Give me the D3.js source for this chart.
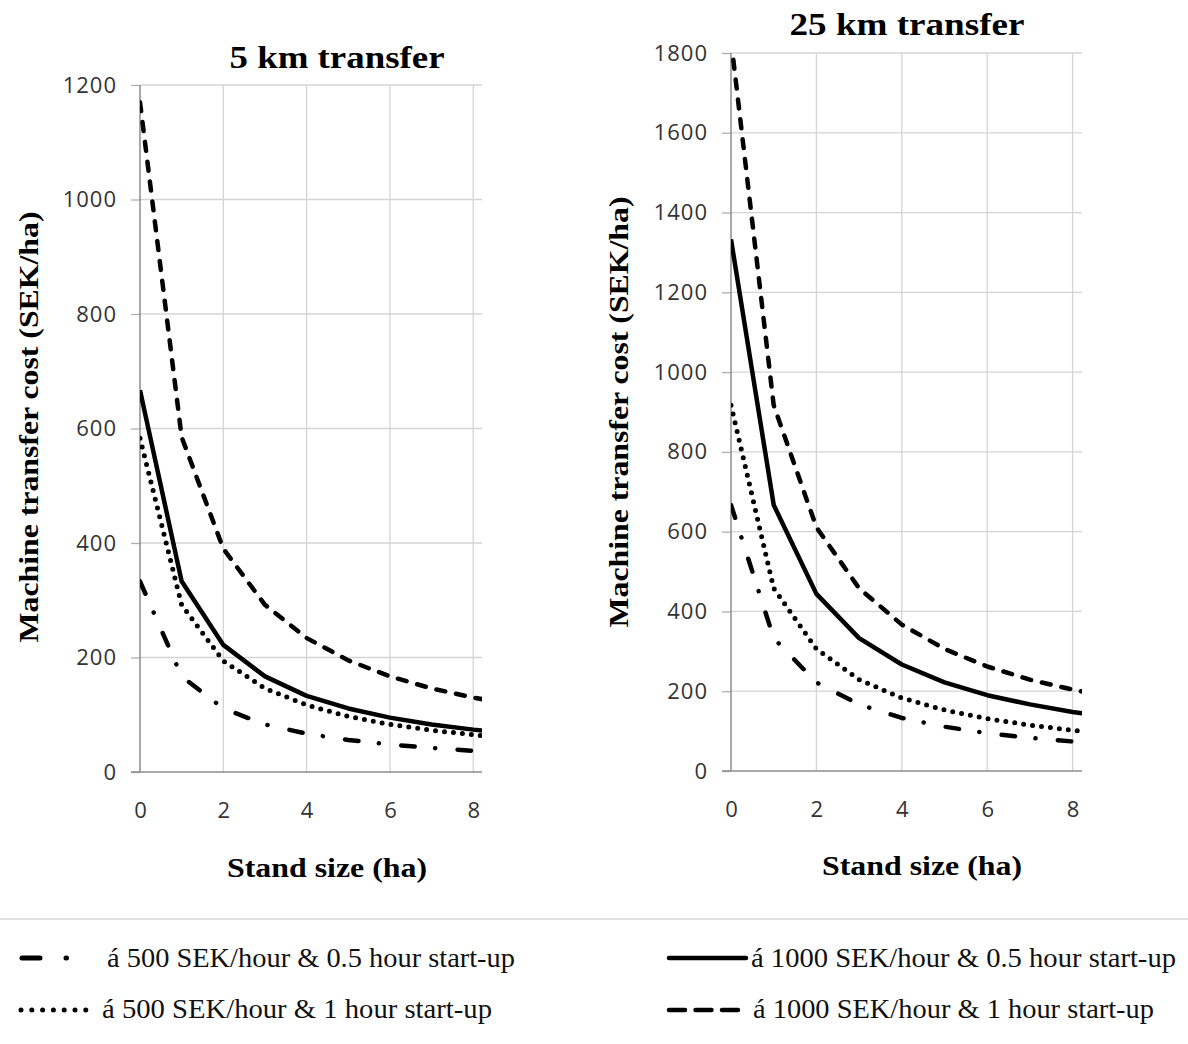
<!DOCTYPE html>
<html>
<head>
<meta charset="utf-8">
<script src="https://cdn.jsdelivr.net/npm/d3@7"></script>
<style>
  body { margin: 0; background: #fff; }
  svg { display: block; }
</style>
</head>
<body>
<svg id="chart" width="1188" height="1044"></svg>
<script>
// Stand sizes (ha) on the x axis
const standSize = [0, 1, 2, 3, 4, 5, 6, 7, 8, 9];

// 5 km transfer (SEK/ha)
const km5Rate500Start05 = [333, 167, 111, 83, 67, 56, 48, 42, 37, 33];
const km5Rate500Start1 = [583, 292, 194, 146, 117, 97, 83, 73, 65, 58];
const km5Rate1000Start05 = [667, 333, 222, 167, 133, 111, 95, 83, 74, 67];
const km5Rate1000Start1 = [1170, 585, 390, 292, 234, 195, 167, 146, 130, 117];

// 25 km transfer (SEK/ha)
const km25Rate500Start05 = [667, 333, 222, 167, 133, 111, 95, 83, 74, 67];
const km25Rate500Start1 = [917, 458, 306, 229, 183, 153, 131, 115, 102, 92];
const km25Rate1000Start05 = [1333, 667, 444, 333, 267, 222, 190, 167, 148, 133];
const km25Rate1000Start1 = [1833, 917, 611, 458, 367, 306, 262, 229, 204, 183];

const xTicks = [0, 2, 4, 6, 8];
const yTicks5 = [0, 200, 400, 600, 800, 1000, 1200];
const yTicks25 = [0, 200, 400, 600, 800, 1000, 1200, 1400, 1600, 1800];

const seriesNames = [
  'á 500 SEK/hour & 0.5 hour start-up',
  'á 500 SEK/hour & 1 hour start-up',
  'á 1000 SEK/hour & 0.5 hour start-up',
  'á 1000 SEK/hour & 1 hour start-up'
];

// line styles, same order as seriesNames
const styles = [
  { width: 4.5, dash: '13.5,20.5,0.1,22.4', cap: 'round' },
  { width: 5, dash: '0,9', cap: 'round' },
  { width: 4.5, dash: null, cap: 'butt' },
  { width: 4.5, dash: '9,11', cap: 'round' }
];

const svg = d3.select('#chart');

const panels = [
  {
    id: 'p5', title: '5 km transfer', titleX: 337, titleY: 68, titleLen: 215,
    x0: 140, x1: 482, y0: 772, y1: 85, xMax: 8.21, yMax: 1200, yTicks: yTicks5,
    yTitleX: 38, yTitleY: 427, xTitleX: 327, xTitleY: 877,
    data: [km5Rate500Start05, km5Rate500Start1, km5Rate1000Start05, km5Rate1000Start1]
  },
  {
    id: 'p25', title: '25 km transfer', titleX: 907, titleY: 35, titleLen: 235,
    x0: 731, x1: 1082, y0: 771, y1: 53, xMax: 8.22, yMax: 1800, yTicks: yTicks25,
    yTitleX: 628, yTitleY: 412, xTitleX: 922, xTitleY: 875,
    data: [km25Rate500Start05, km25Rate500Start1, km25Rate1000Start05, km25Rate1000Start1]
  }
];

panels.forEach(p => {
  const x = d3.scaleLinear().domain([0, p.xMax]).range([p.x0, p.x1]);
  const y = d3.scaleLinear().domain([0, p.yMax]).range([p.y0, p.y1]);

  // gridlines
  svg.append('g')
    .selectAll('line')
    .data(xTicks.filter(d => d > 0))
    .join('line')
    .attr('x1', d => x(d)).attr('x2', d => x(d))
    .attr('y1', y(0)).attr('y2', y(p.yMax))
    .attr('stroke', '#d4d4d4').attr('stroke-width', 1.3);

  svg.append('g')
    .selectAll('line')
    .data(p.yTicks.filter(d => d > 0))
    .join('line')
    .attr('x1', x(0)).attr('x2', x(p.xMax))
    .attr('y1', d => y(d)).attr('y2', d => y(d))
    .attr('stroke', '#d4d4d4').attr('stroke-width', 1.3);

  // y axis
  const yAxis = d3.axisLeft(y).tickValues(p.yTicks).tickFormat(d3.format('d'))
    .tickSize(9).tickPadding(14);
  const gy = svg.append('g')
    .attr('transform', `translate(${x(0)},0)`)
    .call(yAxis);
  gy.select('.domain').remove();
  gy.selectAll('.tick line').attr('stroke', '#b0b0b0').attr('stroke-width', 1.3);
  gy.selectAll('.tick text')
    .attr('fill', '#333')
    .style('font-family', '"Open Sans", sans-serif')
    .style('font-size', '22px')
    .style('letter-spacing', '1px');
  svg.append('line')
    .attr('x1', x(0)).attr('x2', x(0))
    .attr('y1', y(0)).attr('y2', y(p.yMax))
    .attr('stroke', '#8c8c8c').attr('stroke-width', 1.5);

  // x axis
  const xAxis = d3.axisBottom(x).tickValues(xTicks).tickFormat(d3.format('d'))
    .tickSize(0).tickPadding(30);
  const gx = svg.append('g')
    .attr('transform', `translate(0,${y(0)})`)
    .call(xAxis);
  gx.select('.domain').remove();
  gx.selectAll('.tick text')
    .attr('fill', '#333')
    .style('font-family', '"Open Sans", sans-serif')
    .style('font-size', '22px');
  svg.append('line')
    .attr('x1', x(0) - 9).attr('x2', x(p.xMax))
    .attr('y1', y(0)).attr('y2', y(0))
    .attr('stroke', '#8c8c8c').attr('stroke-width', 1.5);

  // clip to plot area
  svg.append('clipPath').attr('id', 'clip-' + p.id)
    .append('rect')
    .attr('x', x(0)).attr('y', y(p.yMax))
    .attr('width', x(p.xMax) - x(0)).attr('height', y(0) - y(p.yMax));

  const line = d3.line()
    .x((d, i) => x(standSize[i]))
    .y(d => y(d));

  const lines = svg.append('g').attr('clip-path', `url(#clip-${p.id})`);
  p.data.forEach((vals, k) => {
    const s = styles[k];
    lines.append('path')
      .datum(vals)
      .attr('d', line)
      .attr('fill', 'none')
      .attr('stroke', '#000')
      .attr('stroke-width', s.width)
      .attr('stroke-linecap', s.cap)
      .attr('stroke-linejoin', 'round')
      .attr('stroke-dasharray', s.dash);
  });

  // titles
  svg.append('text')
    .attr('x', p.titleX).attr('y', p.titleY)
    .attr('text-anchor', 'middle')
    .attr('textLength', p.titleLen).attr('lengthAdjust', 'spacingAndGlyphs')
    .style('font-family', '"Liberation Serif", "Times New Roman", serif')
    .style('font-weight', 'bold')
    .style('font-size', '32px')
    .text(p.title);

  svg.append('text')
    .attr('x', p.xTitleX).attr('y', p.xTitleY)
    .attr('text-anchor', 'middle')
    .attr('textLength', 200).attr('lengthAdjust', 'spacingAndGlyphs')
    .style('font-family', '"Liberation Serif", "Times New Roman", serif')
    .style('font-weight', 'bold')
    .style('font-size', '28px')
    .text('Stand size (ha)');

  svg.append('text')
    .attr('transform', `translate(${p.yTitleX},${p.yTitleY}) rotate(-90)`)
    .attr('text-anchor', 'middle')
    .attr('textLength', 431).attr('lengthAdjust', 'spacingAndGlyphs')
    .style('font-family', '"Liberation Serif", "Times New Roman", serif')
    .style('font-weight', 'bold')
    .style('font-size', '28px')
    .text('Machine transfer cost (SEK/ha)');
});

// legend
svg.append('line')
  .attr('x1', 0).attr('x2', 1188)
  .attr('y1', 919).attr('y2', 919)
  .attr('stroke', '#d9d9d9').attr('stroke-width', 1.5);

const legendItems = [
  { k: 0, sx1: 22, sx2: 70, sy: 958, tx: 107, ty: 967, len: 408, dash: '18,26,0.5,40', w: 5, cap: 'round' },
  { k: 1, sx1: 21, sx2: 86, sy: 1010, tx: 102, ty: 1018, len: 390, dash: '0,10.8', w: 5, cap: 'round' },
  { k: 2, sx1: 669, sx2: 746, sy: 958, tx: 751, ty: 967, len: 425, dash: null, w: 4.5, cap: 'round' },
  { k: 3, sx1: 669, sx2: 739, sy: 1010, tx: 753, ty: 1018, len: 401, dash: '16,10.5', w: 4.5, cap: 'round' }
];

const lg = svg.append('g').attr('id', 'legend');
legendItems.forEach(d => {
  lg.append('line')
    .attr('x1', d.sx1).attr('x2', d.sx2)
    .attr('y1', d.sy).attr('y2', d.sy)
    .attr('stroke', '#000')
    .attr('stroke-width', d.w)
    .attr('stroke-linecap', d.cap)
    .attr('stroke-dasharray', d.dash);
  lg.append('text')
    .attr('x', d.tx).attr('y', d.ty)
    .attr('textLength', d.len).attr('lengthAdjust', 'spacingAndGlyphs')
    .style('font-family', '"Liberation Serif", "Times New Roman", serif')
    .style('font-size', '27px')
    .attr('fill', '#111')
    .text(seriesNames[d.k]);
});
</script>
</body>
</html>
